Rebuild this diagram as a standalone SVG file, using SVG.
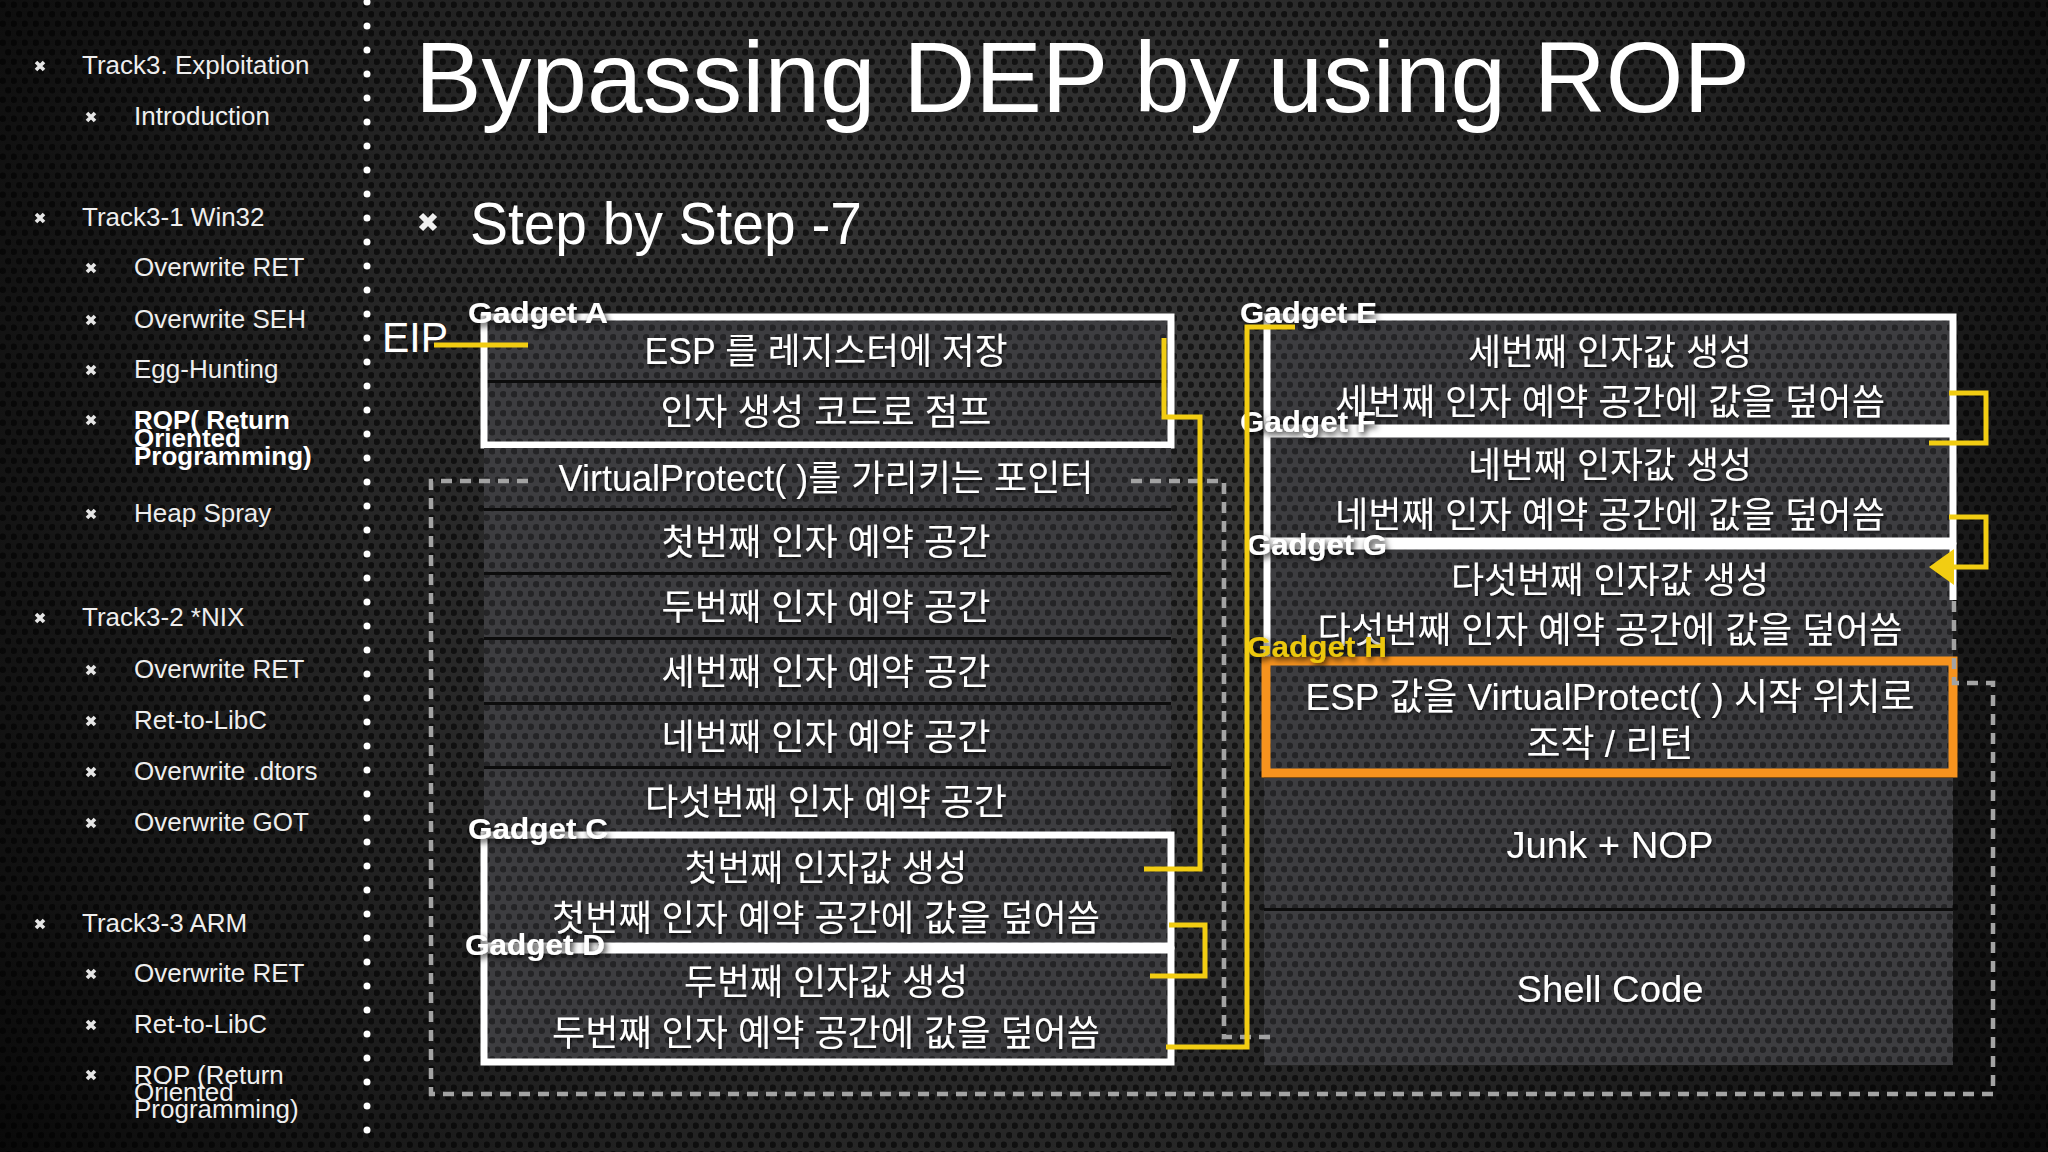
<svg xmlns="http://www.w3.org/2000/svg" xmlns:xlink="http://www.w3.org/1999/xlink" width="2048" height="1152" viewBox="0 0 2048 1152">
<defs>
<radialGradient id="bg" cx="1050" cy="480" r="1250" gradientUnits="userSpaceOnUse">
<stop offset="0" stop-color="#3b3b3b"/>
<stop offset="0.55" stop-color="#262626"/>
<stop offset="1" stop-color="#090909"/>
</radialGradient>
<pattern id="holes" width="11" height="19" patternUnits="userSpaceOnUse">
<circle cx="2.75" cy="4.75" r="3.2" fill="#000" fill-opacity="0.6"/>
<circle cx="8.25" cy="14.25" r="3.2" fill="#000" fill-opacity="0.6"/>
</pattern>
<pattern id="cellp" width="11" height="19" patternUnits="userSpaceOnUse">
<rect width="11" height="19" fill="#3d3d40"/>
<circle cx="2.75" cy="4.75" r="3.3" fill="#242426"/>
<circle cx="8.25" cy="14.25" r="3.3" fill="#242426"/>
</pattern>
<filter id="sh" x="-20%" y="-50%" width="140%" height="200%"><feDropShadow dx="2" dy="3" stdDeviation="3" flood-color="#000" flood-opacity="0.95"/></filter>
<filter id="tsh" x="-5%" y="-30%" width="110%" height="160%"><feDropShadow dx="1" dy="2" stdDeviation="1.5" flood-color="#000" flood-opacity="0.7"/></filter>
<path id="bx" d="M-4,-4L4,4M4,-4L-4,4" fill="none" stroke="#e6e6e6" stroke-width="3.6"/>
</defs>
<style>
.side{font-family:"Liberation Sans",Arial,sans-serif;font-size:26px;fill:#eeeeee}
.sideb{font-family:"Liberation Sans",Arial,sans-serif;font-size:26px;font-weight:bold;fill:#ffffff}
.cell{fill:url(#cellp)}
.base{fill:#0c0c0c}
.t{font-family:"Liberation Sans","Noto Sans CJK KR",sans-serif;font-size:36px;fill:#ffffff;text-anchor:middle;filter:url(#tsh)}
.tl{font-family:"Liberation Sans","Noto Sans CJK KR",sans-serif;font-size:37px;fill:#ffffff;text-anchor:middle;filter:url(#tsh)}
.lbl{font-family:"Liberation Sans",Arial,sans-serif;font-weight:bold;font-size:30px;fill:#ffffff;filter:url(#sh)}
.wbox{fill:none;stroke:#ffffff;stroke-width:7}
.obox{fill:none;stroke:#f7931e;stroke-width:9}
.yel{fill:none;stroke:#f2cd12;stroke-width:5;stroke-linejoin:miter}
.dash{fill:none;stroke:#a3a3a3;stroke-width:4.5;stroke-dasharray:11 8}
</style>

<rect width="2048" height="1152" fill="url(#bg)"/>
<rect width="2048" height="1152" fill="url(#holes)"/>

<g id="sidebar">
<line x1="367" y1="2" x2="367" y2="1152" stroke="#ffffff" stroke-width="7" stroke-linecap="round" stroke-dasharray="0 24"/>
<use xlink:href="#bx" x="40" y="66"/><text class="side" x="82" y="74">Track3. Exploitation</text>
<use xlink:href="#bx" x="91" y="117"/><text class="side" x="134" y="125">Introduction</text>
<use xlink:href="#bx" x="40" y="218"/><text class="side" x="82" y="226">Track3-1 Win32</text>
<use xlink:href="#bx" x="91" y="268"/><text class="side" x="134" y="276">Overwrite RET</text>
<use xlink:href="#bx" x="91" y="320"/><text class="side" x="134" y="328">Overwrite SEH</text>
<use xlink:href="#bx" x="91" y="370"/><text class="side" x="134" y="378">Egg-Hunting</text>
<use xlink:href="#bx" x="91" y="420"/>
<text class="sideb" x="134" y="429">ROP( Return</text>
<text class="sideb" x="134" y="447">Oriented</text>
<text class="sideb" x="134" y="465">Programming)</text>
<use xlink:href="#bx" x="91" y="514"/><text class="side" x="134" y="522">Heap Spray</text>
<use xlink:href="#bx" x="40" y="618"/><text class="side" x="82" y="626">Track3-2 *NIX</text>
<use xlink:href="#bx" x="91" y="670"/><text class="side" x="134" y="678">Overwrite RET</text>
<use xlink:href="#bx" x="91" y="721"/><text class="side" x="134" y="729">Ret-to-LibC</text>
<use xlink:href="#bx" x="91" y="772"/><text class="side" x="134" y="780">Overwrite .dtors</text>
<use xlink:href="#bx" x="91" y="823"/><text class="side" x="134" y="831">Overwrite GOT</text>
<use xlink:href="#bx" x="40" y="924"/><text class="side" x="82" y="932">Track3-3 ARM</text>
<use xlink:href="#bx" x="91" y="974"/><text class="side" x="134" y="982">Overwrite RET</text>
<use xlink:href="#bx" x="91" y="1025"/><text class="side" x="134" y="1033">Ret-to-LibC</text>
<use xlink:href="#bx" x="91" y="1075"/>
<text class="side" x="134" y="1084">ROP (Return</text>
<text class="side" x="134" y="1101">Oriented</text>
<text class="side" x="134" y="1118">Programming)</text>
</g>

<g id="title">
<text x="415" y="112" font-family="Liberation Sans, Arial, sans-serif" font-size="100" fill="#ffffff" textLength="1335" lengthAdjust="spacingAndGlyphs">Bypassing DEP by using ROP</text>
<path d="M421,215L435,229M435,215L421,229" fill="none" stroke="#f0f0f0" stroke-width="6"/>
<text x="470" y="244" font-family="Liberation Sans, Arial, sans-serif" font-size="60" fill="#ffffff" textLength="392" lengthAdjust="spacingAndGlyphs">Step by Step -7</text>
<text x="382" y="352" font-family="Liberation Sans, Arial, sans-serif" font-size="42" fill="#ffffff" textLength="66" lengthAdjust="spacingAndGlyphs">EIP</text>
</g>

<g id="column-bases">
<rect class="base" x="484" y="317" width="687" height="745"/>
<rect class="base" x="1264" y="317" width="689" height="748"/>
</g>

<g id="node-gadget-a">
<rect class="cell" x="484" y="320" width="687" height="60"/>
<rect class="cell" x="484" y="383" width="687" height="62"/>
<text class="t" x="826" y="364" textLength="363" lengthAdjust="spacingAndGlyphs">ESP 를 레지스터에 저장</text>
<text class="t" x="826" y="425" textLength="331" lengthAdjust="spacingAndGlyphs">인자 생성 코드로 점프</text>
<rect class="wbox" x="484" y="317" width="687" height="128"/>
<text class="lbl" x="468" y="323" textLength="140" lengthAdjust="spacingAndGlyphs">Gadget A</text>
</g>

<g id="node-vp-pointer">
<rect class="cell" x="484" y="448" width="687" height="60"/>
<text class="t" x="826" y="491" textLength="535" lengthAdjust="spacingAndGlyphs">VirtualProtect( )를 가리키는 포인터</text>
</g>
<g id="node-arg1">
<rect class="cell" x="484" y="511" width="687" height="61"/>
<text class="t" x="826" y="555" textLength="329" lengthAdjust="spacingAndGlyphs">첫번째 인자 예약 공간</text>
</g>
<g id="node-arg2">
<rect class="cell" x="484" y="575" width="687" height="62"/>
<text class="t" x="826" y="620" textLength="329" lengthAdjust="spacingAndGlyphs">두번째 인자 예약 공간</text>
</g>
<g id="node-arg3">
<rect class="cell" x="484" y="640" width="687" height="62"/>
<text class="t" x="826" y="685" textLength="329" lengthAdjust="spacingAndGlyphs">세번째 인자 예약 공간</text>
</g>
<g id="node-arg4">
<rect class="cell" x="484" y="705" width="687" height="61"/>
<text class="t" x="826" y="750" textLength="329" lengthAdjust="spacingAndGlyphs">네번째 인자 예약 공간</text>
</g>
<g id="node-arg5">
<rect class="cell" x="484" y="769" width="687" height="63"/>
<text class="t" x="826" y="815" textLength="362" lengthAdjust="spacingAndGlyphs">다섯번째 인자 예약 공간</text>
</g>

<g id="node-gadget-c">
<rect class="cell" x="484" y="835" width="687" height="111"/>
<text class="t" x="826" y="881" textLength="283" lengthAdjust="spacingAndGlyphs">첫번째 인자값 생성</text>
<text class="t" x="826" y="931" textLength="548" lengthAdjust="spacingAndGlyphs">첫번째 인자 예약 공간에 값을 덮어씀</text>
<rect class="wbox" x="484" y="835" width="687" height="111"/>
<text class="lbl" x="468" y="839" textLength="140" lengthAdjust="spacingAndGlyphs">Gadget C</text>
</g>

<g id="node-gadget-d">
<rect class="cell" x="484" y="950" width="687" height="112"/>
<text class="t" x="826" y="995" textLength="284" lengthAdjust="spacingAndGlyphs">두번째 인자값 생성</text>
<text class="t" x="826" y="1046" textLength="548" lengthAdjust="spacingAndGlyphs">두번째 인자 예약 공간에 값을 덮어씀</text>
<rect class="wbox" x="484" y="950" width="687" height="112"/>
<text class="lbl" x="465" y="955" textLength="140" lengthAdjust="spacingAndGlyphs">Gadget D</text>
</g>

<g id="node-gadget-e">
<rect class="cell" x="1264" y="317" width="689" height="111"/>
<text class="t" x="1610" y="365" textLength="284" lengthAdjust="spacingAndGlyphs">세번째 인자값 생성</text>
<text class="t" x="1610" y="415" textLength="550" lengthAdjust="spacingAndGlyphs">세번째 인자 예약 공간에 값을 덮어씀</text>
<rect class="wbox" x="1267" y="317" width="686" height="111"/>
<text class="lbl" x="1240" y="323" textLength="137" lengthAdjust="spacingAndGlyphs">Gadget E</text>
</g>

<g id="node-gadget-f">
<rect class="cell" x="1264" y="431" width="689" height="112"/>
<text class="t" x="1610" y="478" textLength="284" lengthAdjust="spacingAndGlyphs">네번째 인자값 생성</text>
<text class="t" x="1610" y="528" textLength="550" lengthAdjust="spacingAndGlyphs">네번째 인자 예약 공간에 값을 덮어씀</text>
<rect class="wbox" x="1267" y="434" width="686" height="107"/>
<text class="lbl" x="1240" y="432" textLength="136" lengthAdjust="spacingAndGlyphs">Gadget F</text>
</g>

<g id="node-gadget-g">
<rect class="cell" x="1264" y="546" width="689" height="114"/>
<text class="t" x="1610" y="593" textLength="318" lengthAdjust="spacingAndGlyphs">다섯번째 인자값 생성</text>
<text class="t" x="1610" y="643" textLength="585" lengthAdjust="spacingAndGlyphs">다섯번째 인자 예약 공간에 값을 덮어씀</text>
<path class="wbox" d="M1953,600V546H1267V662"/>
<text class="lbl" x="1247" y="555" textLength="140" lengthAdjust="spacingAndGlyphs">Gadget G</text>
</g>

<g id="node-gadget-h">
<rect class="cell" x="1264" y="660" width="689" height="116"/>
<text class="tl" x="1610" y="710" textLength="609" lengthAdjust="spacingAndGlyphs">ESP 값을 VirtualProtect( ) 시작 위치로</text>
<text class="tl" x="1610" y="757" textLength="167" lengthAdjust="spacingAndGlyphs">조작 / 리턴</text>
<rect class="obox" x="1266" y="661" width="687" height="112"/>
<text class="lbl" x="1247" y="657" style="fill:#ecc80a" textLength="140" lengthAdjust="spacingAndGlyphs">Gadget H</text>
</g>

<g id="node-junk">
<rect class="cell" x="1264" y="778" width="689" height="130"/>
<text class="tl" x="1610" y="858" textLength="207" lengthAdjust="spacingAndGlyphs">Junk + NOP</text>
</g>
<g id="node-shellcode">
<rect class="cell" x="1264" y="911" width="689" height="154"/>
<text class="tl" x="1610" y="1002" textLength="187" lengthAdjust="spacingAndGlyphs">Shell Code</text>
</g>

<g id="connectors">
<path class="dash" d="M528,481H431V1094H1993V683H1954V600"/>
<path class="dash" d="M1131,481H1224V1037H1270"/>
<path class="yel" d="M434,345H528"/>
<path class="yel" d="M1164,338V417H1200V869H1144"/>
<path class="yel" d="M1169,925H1205V976H1150"/>
<path class="yel" d="M1166,1047H1247V327H1295"/>
<path class="yel" d="M1949,393H1986V443H1929"/>
<path class="yel" d="M1949,517H1986V567H1950"/>
<polygon points="1929,567 1954,549 1954,585" fill="#f2cd12"/>
</g>
</svg>
